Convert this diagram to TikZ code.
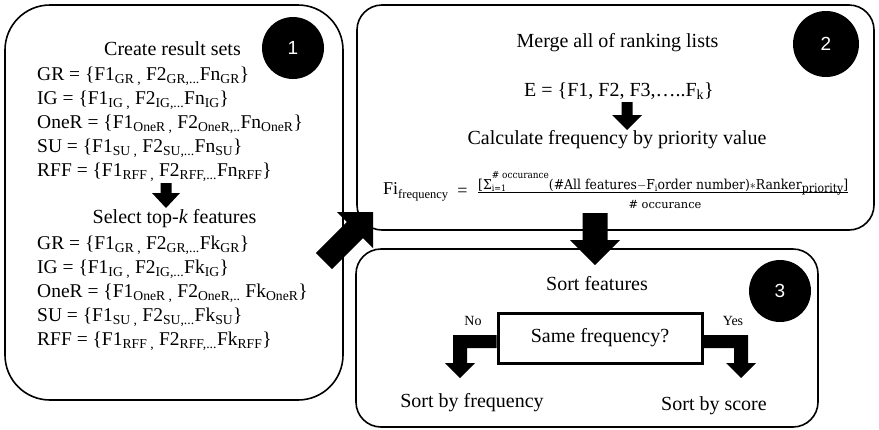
\documentclass[tikz,border=0pt]{standalone}
\usepackage{fontspec}
\setmainfont{Liberation Serif}
\newfontfamily\numfont{Liberation Sans}
\newfontfamily\formfont{DejaVu Serif}
\usetikzlibrary{calc}
\tikzset{
  box/.style={draw, line width=1.6pt, inner sep=0pt},
  numc/.style={circle, fill=black, inner sep=0pt, text=white, font=\numfont\fontsize{19}{19}\selectfont},
  txt/.style={inner sep=0pt, font=\fontsize{20}{24}\selectfont},
  lst/.style={inner sep=0pt, anchor=base west, font=\fontsize{19.5}{24}\selectfont},
  hd/.style={txt, anchor=base},
  blk/.style={fill=black},
  small/.style={inner sep=0pt, anchor=base, font=\fontsize{14}{16}\selectfont},
  frm/.style={inner sep=0pt, font=\formfont\fontsize{12.5}{14}\selectfont},
}
\newcommand{\ssub}[1]{\textsubscript{#1}}
\newcommand{\fsz}[2]{{\fontsize{#1}{#1}\selectfont #2}}
\begin{document}
\begin{tikzpicture}[x=1pt,y=-1pt]
\useasboundingbox (0,0) rectangle (879,429);
% boxes
\node[box, rounded corners=45pt, minimum width=338pt, minimum height=395pt] (b1) at (174,202.5) {};
\node[box, rounded corners=25pt, minimum width=517pt, minimum height=225pt] (b2) at (615.5,117.5) {};
\node[box, rounded corners=25pt, minimum width=462pt, minimum height=178pt] (b3) at (587,338) {};
% numbers
\node[numc, minimum size=62pt] (n1) at (293,48) {1};
\node[numc, minimum size=66pt] (n2) at (826,44) {2};
\node[numc, minimum size=62pt] (n3) at (780,291) {3};
% box 1 texts
\node[hd] (t1) at (172.5,55) {Create result sets};
\node[lst] (l1) at (37,80) {GR = \{F1\ssub{GR ,} F2\ssub{GR,...}Fn\ssub{GR}\}};
\node[lst] (l2) at (37,104) {IG = \{F1\ssub{IG ,} F2\ssub{IG,...}Fn\ssub{IG}\}};
\node[lst] (l3) at (37,128) {OneR = \{F1\ssub{OneR ,} F2\ssub{OneR,..}Fn\ssub{OneR}\}};
\node[lst] (l4) at (37,152) {SU = \{F1\ssub{SU ,} F2\ssub{SU,...}Fn\ssub{SU}\}};
\node[lst] (l5) at (37,176) {RFF = \{F1\ssub{RFF ,} F2\ssub{RFF,...}Fn\ssub{RFF}\}};
\node[hd] (t2) at (174.5,223) {Select top-\textit{k} features};
\node[lst] (k1) at (37,249) {GR = \{F1\ssub{GR ,} F2\ssub{GR,...}Fk\ssub{GR}\}};
\node[lst] (k2) at (37,273) {IG = \{F1\ssub{IG ,} F2\ssub{IG,...}Fk\ssub{IG}\}};
\node[lst] (k3) at (37,297) {OneR = \{F1\ssub{OneR ,} F2\ssub{OneR,..} Fk\ssub{OneR}\}};
\node[lst] (k4) at (37,321) {SU = \{F1\ssub{SU ,} F2\ssub{SU,...}Fk\ssub{SU}\}};
\node[lst] (k5) at (37,345) {RFF = \{F1\ssub{RFF ,} F2\ssub{RFF,...}Fk\ssub{RFF}\}};
% box 2 texts
\node[hd] (m1) at (617.5,47) {Merge all of ranking lists};
\node[hd] (m2) at (619,96) {E = \{F1, F2, F3,…..F\ssub{k}\}};
\node[hd] (m3) at (617,144) {Calculate frequency by priority value};
\node[inner sep=0pt, anchor=base west, font=\fontsize{18}{20}\selectfont] (fi) at (383,194) {Fi\raisebox{-4pt}{\fontsize{12.5}{13}\selectfont frequency}};
\node[inner sep=0pt, anchor=base, font=\fontsize{18}{20}\selectfont] (eq) at (462.5,196.5) {=};
\node[frm, anchor=base west] (num) at (478,189) {\resizebox{370pt}{18pt}{%
  [Σ\makebox[0pt][l]{\raisebox{-2pt}{\fsz{8}{i=1}}}\raisebox{10pt}{\fsz{9}{\# occurance}}(\#All features\mbox{$-$}F\raisebox{-2pt}{\fsz{8}{i}}order number)\mbox{$\ast$}Ranker\raisebox{-3pt}{\fsz{11}{priority}}]}};
\draw[line width=1.1pt] (num.base west) ++(0,3.5) -- ++(370,0);
\node[frm, anchor=base, font=\formfont\fontsize{11.4}{13}\selectfont] (den) at (665,208) {\# occurance};
% box 3 texts
\node[hd] (s1) at (597,290) {Sort features};
\node[draw, line width=3pt, minimum width=204pt, minimum height=50pt, inner sep=0pt, font=\fontsize{20}{24}\selectfont] (dec) at (600,338) {Same frequency?};
\node[small] (no) at (473,325) {No};
\node[small] (yes) at (733,325) {Yes};
\node[hd] (sf) at (472,407) {Sort by frequency};
\node[hd] (ss) at (714,410) {Sort by score};
% block arrows
\fill[blk] (160.5,183) -- (171.5,183) -- (171.5,193) -- (180,193) -- (166,208) -- (152,193) -- (160.5,193) -- cycle;
\fill[blk] (621.5,102) -- (632.5,102) -- (632.5,115) -- (642,115) -- (627,130) -- (612,115) -- (621.5,115) -- cycle;
\fill[blk] (582.5,213) -- (607.5,213) -- (607.5,240) -- (620,240) -- (595,265) -- (570,240) -- (582.5,240) -- cycle;
\fill[blk] (373,212) -- (373,248) -- (363.1,238.1) -- (332,269.2) -- (315.8,253) -- (346.9,221.9) -- (337,212) -- cycle;
\fill[blk] (dec.west |- 0,335) -- (453,335) -- (453,363) -- (445,363) -- (460,378) -- (475,363) -- (467,363) -- (467,348) -- (dec.west |- 0,348) -- cycle;
\fill[blk] (dec.east |- 0,335) -- (748,335) -- (748,363) -- (756,363) -- (741,378) -- (726,363) -- (734,363) -- (734,348) -- (dec.east |- 0,348) -- cycle;
\end{tikzpicture}
\end{document}
